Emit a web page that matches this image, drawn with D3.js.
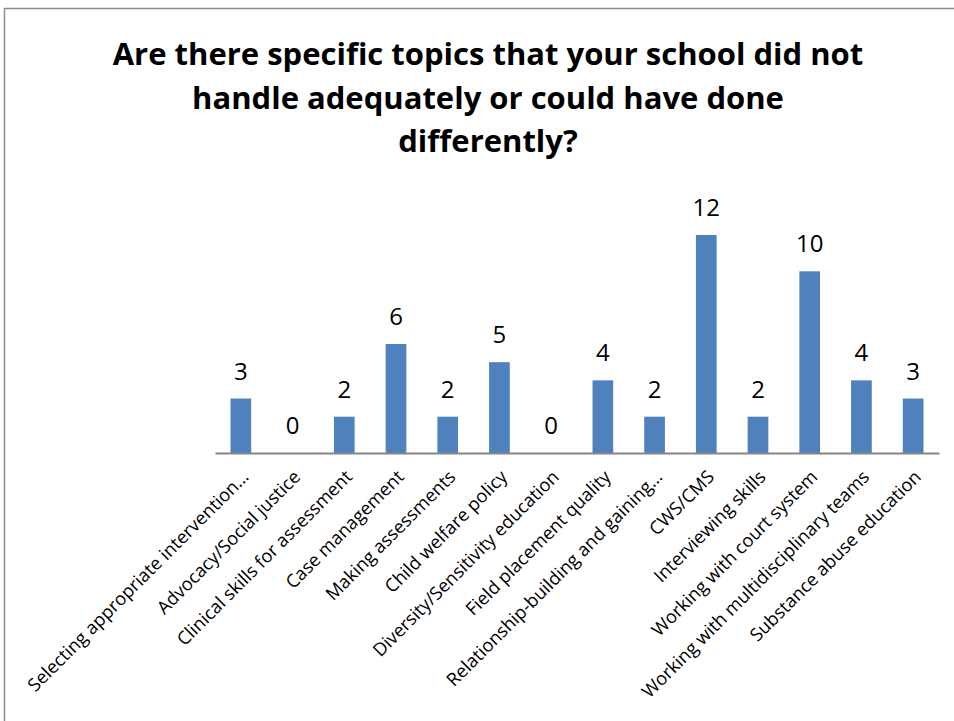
<!DOCTYPE html>
<html><head><meta charset="utf-8">
<script src="https://cdn.jsdelivr.net/npm/d3@7"></script>
<style>body{margin:0;background:#fff;} svg{display:block;}</style>
</head><body>
<svg id="c" width="954" height="721"></svg>
<script>
const titleLines = ["Are there specific topics that your school did not", "handle adequately or could have done", "differently?"];
const categories = ["Selecting appropriate intervention…","Advocacy/Social justice","Clinical skills for assessment","Case management","Making assessments","Child welfare policy","Diversity/Sensitivity education","Field placement quality","Relationship-building and gaining…","CWS/CMS","Interviewing skills","Working with court system","Working with multidisciplinary teams","Substance abuse education"];
const values = [3,0,2,6,2,5,0,4,2,12,2,10,4,3];

const svg = d3.select("#c");
svg.append("rect").attr("x",4.5).attr("y",8.5).attr("width",960).attr("height",730)
  .attr("fill","#fff").attr("stroke","#8c8c8c").attr("stroke-width",1.5);

const font = "'Open Sans', sans-serif";
const title = svg.append("g");
titleLines.forEach((t,i)=>{
  title.append("text").attr("x",488).attr("y",65+i*43.5).attr("text-anchor","middle")
   .attr("font-family",font).attr("font-weight","bold").attr("font-size",31).attr("fill","#000").text(t);
});

const x = d3.scaleBand().domain(categories).range([215,939]).paddingInner(0.6).paddingOuter(0.3);
const y = d3.scaleLinear().domain([0,12]).range([453,235]);

svg.selectAll("rect.bar").data(values).join("rect").attr("class","bar")
  .attr("x",(d,i)=>x(categories[i])).attr("width",x.bandwidth())
  .attr("y",d=>y(d)).attr("height",d=>y(0)-y(d)).attr("fill","#4f81bd");

svg.selectAll("text.val").data(values).join("text").attr("class","val")
  .attr("x",(d,i)=>x(categories[i])+x.bandwidth()/2).attr("y",d=>y(d)-19)
  .attr("text-anchor","middle").attr("font-family",font).attr("font-size",24).attr("fill","#000").text(d=>d);

const axis = d3.axisBottom(x).tickSize(0).tickPadding(0);
const ag = svg.append("g").attr("transform",`translate(0,${y(0)})`).call(axis);
ag.select(".domain").attr("stroke","#868686").attr("stroke-width",2);
ag.selectAll(".tick text").attr("font-family",font).attr("font-size",18.2).attr("fill","#000")
  .attr("text-anchor","end").attr("dy",null).attr("y",null)
  .attr("transform","translate(9,25) rotate(-45)");
</script>
</body></html>
